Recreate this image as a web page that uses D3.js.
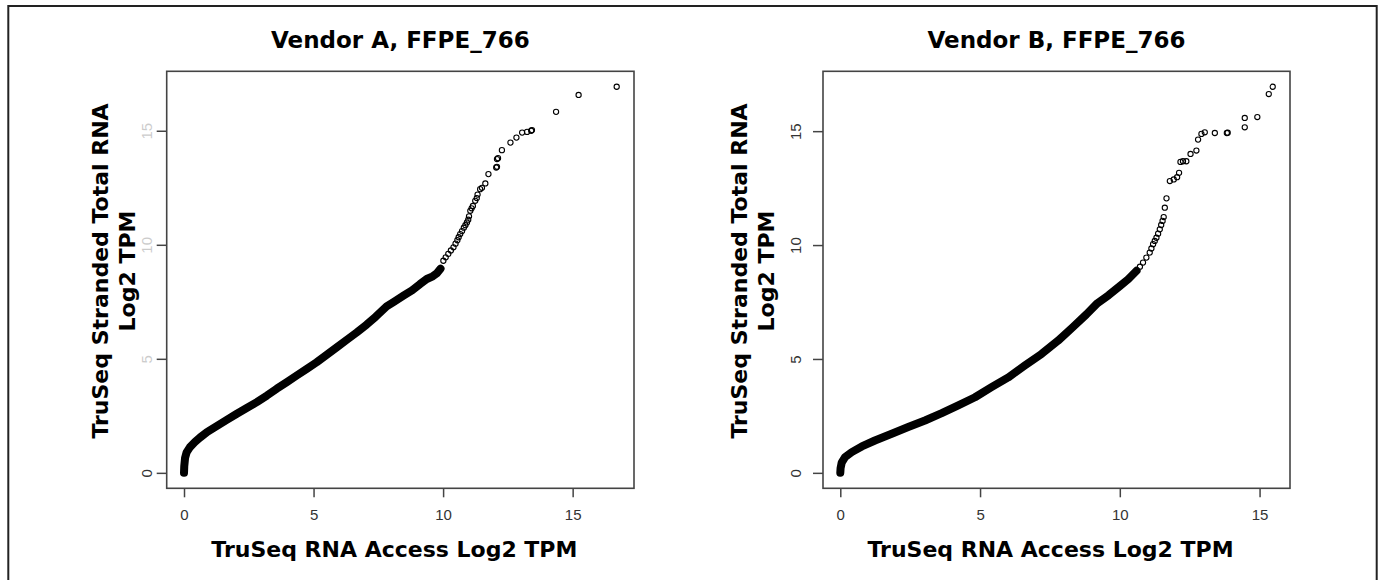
<!DOCTYPE html>
<html>
<head>
<meta charset="utf-8">
<script src="https://cdn.jsdelivr.net/npm/d3@7"></script>
<style>
  body { margin: 0; background: #fff; }
</style>
</head>
<body>
<div id="chart"></div>
<script>

// Vendor A, FFPE_766  (sorted quantiles)
const vendorA_x = [0, 0.01, 0.04, 0.1, 0.23, 0.42, 0.62, 0.9, 1.26, 1.65, 2.04, 2.42, 2.81, 3.2, 3.58, 3.97, 4.35, 4.74, 5.12, 5.51,
  5.9, 6.28, 6.67, 7.05, 7.4, 7.82, 8.1, 8.47, 8.8, 9.11, 9.37, 9.6, 9.76, 9.9,
  10.01, 10.1, 10.2, 10.3, 10.4, 10.48, 10.55, 10.6, 10.66, 10.73, 10.8, 10.86, 10.92, 10.97, 11.0, 11.05, 11.1, 11.15, 11.24, 11.3,
  11.33, 11.43, 11.5, 11.63, 11.75, 12.05, 12.08, 12.08, 12.12, 12.27, 12.6, 12.83, 13.05, 13.24, 13.4, 13.43, 14.36, 15.23, 16.7];
const vendorA_y = [0, 0.3, 0.65, 0.9, 1.13, 1.35, 1.55, 1.8, 2.05, 2.32, 2.59, 2.84, 3.1, 3.39, 3.69, 3.98, 4.27, 4.56, 4.85, 5.18,
  5.51, 5.83, 6.16, 6.5, 6.85, 7.3, 7.5, 7.77, 8.0, 8.28, 8.5, 8.62, 8.75, 8.95,
  9.3, 9.45, 9.6, 9.75, 9.89, 10.05, 10.2, 10.33, 10.47, 10.6, 10.75, 10.86, 10.98, 11.1, 11.25, 11.49, 11.6, 11.7, 11.93, 12.05,
  12.2, 12.44, 12.5, 12.69, 13.1, 13.39, 13.42, 13.76, 13.8, 14.15, 14.48, 14.7, 14.92, 14.95, 15.0, 15.03, 15.83, 16.57, 16.93];

// Vendor B, FFPE_766
const vendorB_x = [0, 0.01, 0.05, 0.17, 0.41, 0.77, 1.24, 1.84, 2.43, 3.03, 3.63, 4.22, 4.82, 5.41, 6.01, 6.6, 7.2, 7.79, 8.33, 8.8,
  9.2, 9.6, 10.0, 10.3, 10.6,
  10.72, 10.83, 10.95, 11.07, 11.13, 11.19, 11.25, 11.31, 11.37, 11.43, 11.48, 11.53, 11.57, 11.61, 11.67, 11.79, 11.93, 12.05, 12.12, 12.17,
  12.26, 12.38, 12.53, 12.74, 12.8, 12.92, 13.04, 13.4, 13.83, 13.86, 14.47, 14.47, 14.92, 15.33, 15.47];
const vendorB_y = [0, 0.2, 0.45, 0.69, 0.91, 1.16, 1.42, 1.72, 2.01, 2.3, 2.62, 2.96, 3.32, 3.76, 4.19, 4.71, 5.22, 5.8, 6.41, 6.95,
  7.45, 7.8, 8.2, 8.5, 8.87,
  9.05, 9.23, 9.45, 9.67, 9.85, 10.04, 10.18, 10.32, 10.5, 10.69, 10.88, 11.06, 11.23, 11.64, 12.05, 12.81, 12.88, 12.98, 13.17, 13.65,
  13.68, 13.68, 14.0, 14.15, 14.63, 14.88, 14.95, 14.92, 14.92, 14.93, 15.17, 15.58, 15.62, 16.63, 16.95];

const xTicks = [0, 5, 10, 15];
const yTicks = [0, 5, 10, 15];
const titles = ["Vendor A, FFPE_766", "Vendor B, FFPE_766"];
const xLabel = "TruSeq RNA Access Log2 TPM";
const yLabel = ["TruSeq Stranded Total RNA", "Log2 TPM"];

const W = 1383, H = 580;
const boldFont = "'DejaVu Sans', Verdana, sans-serif";
const tickFont = "'Liberation Sans', Arial, sans-serif";

// layout of the two panels (plot box in pixels)
const panels = [
  { xs: vendorA_x, ys: vendorA_y, band: 34, title: titles[0],
    left: 166.7, right: 634, top: 71.3, bottom: 488.3,
    yLab1: 108, yLab2: 135, yTickOff: 15, fadeY: true },
  { xs: vendorB_x, ys: vendorB_y, band: 25, title: titles[1],
    left: 823, right: 1290, top: 71.3, bottom: 488.3,
    yLab1: 747, yLab2: 774, yTickOff: 22, fadeY: false }
];

const svg = d3.select("#chart")
  .append("svg")
  .attr("width", W)
  .attr("height", H);

svg.append("rect").attr("width", W).attr("height", H).attr("fill", "#fff");

// outer frame of the figure
svg.append("rect")
  .attr("x", 8.3).attr("y", 6)
  .attr("width", 1376.7 - 8.3).attr("height", 620)
  .attr("fill", "none")
  .attr("stroke", "#222")
  .attr("stroke-width", 2);

// R style range: extent padded by 4% each side
function padded(v) {
  const [lo, hi] = d3.extent(v);
  const p = (hi - lo) * 0.04;
  return [lo - p, hi + p];
}

panels.forEach(p => {

  const pts = p.xs.map((d, i) => ({ x: d, y: p.ys[i] }));

  const x = d3.scaleLinear().domain(padded(p.xs)).range([p.left, p.right]);
  const y = d3.scaleLinear().domain(padded(p.ys)).range([p.bottom, p.top]);

  const g = svg.append("g");

  // x axis
  const gx = g.append("g")
    .attr("transform", "translate(0," + p.bottom + ")")
    .call(d3.axisBottom(x).tickValues(xTicks).tickSize(9).tickSizeOuter(0));
  gx.select(".domain").remove();
  gx.selectAll("line").attr("stroke", "#444").attr("stroke-width", 1.5);
  gx.selectAll("text")
    .attr("y", 32).attr("dy", 0)
    .attr("fill", "#333")
    .style("font-family", tickFont)
    .style("font-size", "15px");

  // y axis, labels turned like R's default
  const gy = g.append("g")
    .attr("transform", "translate(" + p.left + ",0)")
    .call(d3.axisLeft(y).tickValues(yTicks).tickSize(10).tickSizeOuter(0));
  gy.select(".domain").remove();
  gy.selectAll("line").attr("stroke", "#444").attr("stroke-width", 1.5);
  gy.selectAll("text")
    .attr("transform", "rotate(-90)")
    .attr("x", 0).attr("y", -p.yTickOff).attr("dy", 0)
    .attr("text-anchor", "middle")
    .attr("fill", "#333")
    .attr("opacity", d => (p.fadeY && d !== 0) ? 0.25 : 1)
    .style("font-family", tickFont)
    .style("font-size", "15px");

  // plot box
  g.append("rect")
    .attr("x", p.left).attr("y", p.top)
    .attr("width", p.right - p.left).attr("height", p.bottom - p.top)
    .attr("fill", "none")
    .attr("stroke", "#444")
    .attr("stroke-width", 1.6);

  // thousands of overlapping points at the low end merge into a solid band
  g.append("path")
    .datum(pts.slice(0, p.band))
    .attr("d", d3.line().x(d => x(d.x)).y(d => y(d.y)))
    .attr("fill", "none")
    .attr("stroke", "#000")
    .attr("stroke-width", 8)
    .attr("stroke-linecap", "round")
    .attr("stroke-linejoin", "round");

  g.selectAll(".pt")
    .data(pts)
    .enter()
    .append("circle")
    .attr("class", "pt")
    .attr("cx", d => x(d.x))
    .attr("cy", d => y(d.y))
    .attr("r", 2.6)
    .attr("fill", "none")
    .attr("stroke", "#000")
    .attr("stroke-width", 1.1);

  const cx = (p.left + p.right) / 2;

  g.append("text")
    .attr("x", cx).attr("y", 48)
    .attr("text-anchor", "middle")
    .style("font-family", boldFont).style("font-weight", "bold").style("font-size", "23px")
    .text(p.title);

  g.append("text")
    .attr("x", cx - 6).attr("y", 557)
    .attr("text-anchor", "middle")
    .style("font-family", boldFont).style("font-weight", "bold").style("font-size", "22px")
    .text(xLabel);

  [p.yLab1, p.yLab2].forEach((bx, i) => {
    g.append("text")
      .attr("transform", "translate(" + bx + ",271) rotate(-90)")
      .attr("text-anchor", "middle")
      .style("font-family", boldFont).style("font-weight", "bold").style("font-size", "22px")
      .text(yLabel[i]);
  });
});

</script>
</body>
</html>
